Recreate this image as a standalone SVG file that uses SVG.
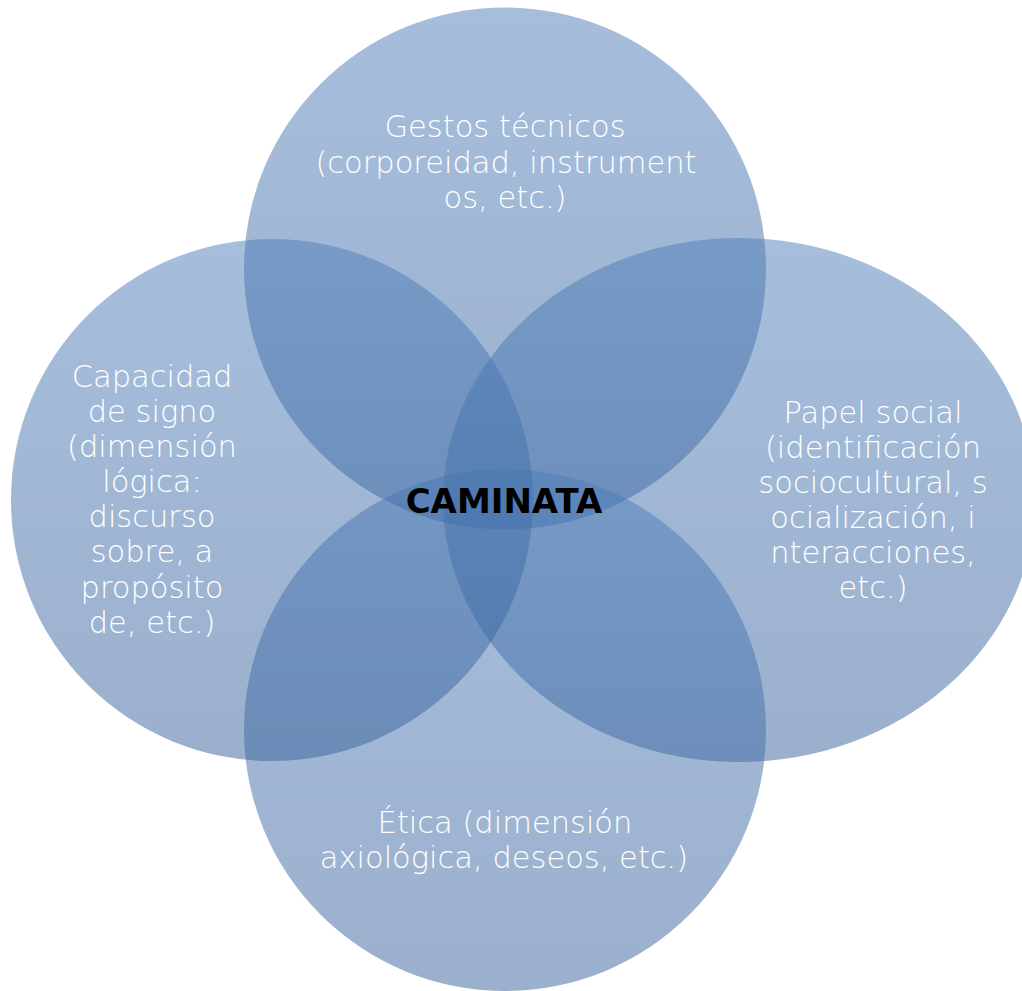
<svg xmlns="http://www.w3.org/2000/svg" width="1022" height="991" viewBox="0 0 1022 991">
  <defs>
    <linearGradient id="fillGrad" x1="0" y1="0" x2="0" y2="1">
      <stop offset="0" stop-color="#4d7db9"/>
      <stop offset="1" stop-color="#37619b"/>
    </linearGradient>
    <style>
      .shape { fill: url(#fillGrad); fill-opacity: 0.5; stroke: none; }
      .lbl { font-family: "DejaVu Sans", "Liberation Sans", sans-serif; font-weight: 200; font-size: 30.5px; fill: #ffffff; text-anchor: middle; }
      .center { font-family: "DejaVu Sans", "Liberation Sans", sans-serif; font-weight: bold; font-size: 34px; fill: #000000; text-anchor: middle; }
    </style>
  </defs>
  <rect width="1022" height="991" fill="#ffffff"/>
  <g id="connectors"/>
  <g id="node-gestos">
    <circle class="shape" cx="505" cy="268.5" r="261"/>
  </g>
  <g id="node-papel">
    <ellipse class="shape" cx="739" cy="500" rx="296" ry="262"/>
  </g>
  <g id="node-etica">
    <circle class="shape" cx="505" cy="730" r="261"/>
  </g>
  <g id="node-capacidad">
    <circle class="shape" cx="272" cy="500" r="261"/>
  </g>
  <g id="labels-gestos">
    <text class="lbl" x="505" y="137">Gestos técnicos</text>
    <text class="lbl" x="506" y="172.5">(corporeidad, instrument</text>
    <text class="lbl" x="505" y="208">os, etc.)</text>
  </g>
  <g id="labels-papel">
    <text class="lbl" x="873" y="423">Papel social</text>
    <text class="lbl" x="873" y="458">(identificación</text>
    <text class="lbl" x="873" y="493">sociocultural, s</text>
    <text class="lbl" x="873" y="528">ocialización, i</text>
    <text class="lbl" x="873" y="563">nteracciones,</text>
    <text class="lbl" x="873" y="598">etc.)</text>
  </g>
  <g id="labels-etica">
    <text class="lbl" x="505" y="833">Ética (dimensión</text>
    <text class="lbl" x="504" y="868">axiológica, deseos, etc.)</text>
  </g>
  <g id="labels-capacidad">
    <text class="lbl" x="152" y="387">Capacidad</text>
    <text class="lbl" x="152" y="422">de signo</text>
    <text class="lbl" x="152" y="457">(dimensión</text>
    <text class="lbl" x="152" y="492">lógica:</text>
    <text class="lbl" x="152" y="527">discurso</text>
    <text class="lbl" x="152" y="562">sobre, a</text>
    <text class="lbl" x="152" y="598">propósito</text>
    <text class="lbl" x="152" y="633">de, etc.)</text>
  </g>
  <g id="node-caminata">
    <text class="center" x="504" y="513">CAMINATA</text>
  </g>
</svg>
